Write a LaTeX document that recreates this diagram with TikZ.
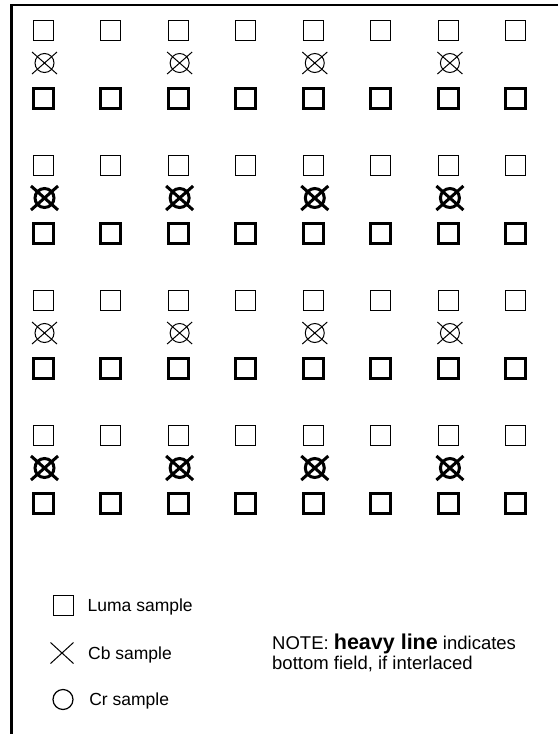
\documentclass[tikz,border=0pt]{standalone}
\usepackage{fontspec}
\setmainfont{Liberation Sans}
\usetikzlibrary{positioning, shapes.misc}

\begin{document}
\begin{tikzpicture}[
    x=1pt,
    y=-1pt,
    luma/.style={
        draw,
        rectangle,
        minimum size=20pt,
        inner sep=0pt,
        line width=1pt
    },
    heavyluma/.style={
        luma,
        line width=3pt
    },
    cbmark/.style={
        draw,
        cross out,
        minimum width=24pt,
        minimum height=21pt,
        inner sep=0pt,
        line width=1pt
    },
    crmark/.style={
        draw,
        circle,
        minimum size=19pt,
        inner sep=0pt,
        line width=1pt
    },
    keytext/.style={
        inner sep=0pt,
        font=\fontsize{17.5}{20}\selectfont,
        text height=12pt,
        text depth=0pt
    },
    frame/.style={
        line width=2.5pt
    }
]

\useasboundingbox (0,0) rectangle (558,734);

\draw[frame] (558,5) -- (11.5,5) -- (11.5,734);

% luma rows, thin = top field, heavy = bottom field
\foreach \g in {0,...,3} {
    \foreach \i in {0,...,7} {
        \node[luma] (top-\g-\i) at ({43+67.57*\i}, {30+135*\g}) {};
        \node[heavyluma] (bottom-\g-\i) at ({43+67.57*\i}, {98+135*\g}) {};
    }
}

% chroma sites
\foreach \g/\w in {0/1pt, 1/3pt, 2/1pt, 3/3pt} {
    \foreach \i in {0,2,4,6} {
        \node[cbmark, line width=\w] (cb-\g-\i) at ({44.5+67.57*\i}, {63+135*\g}) {};
        \node[crmark, line width=\w] (cr-\g-\i) at ({44.5+67.57*\i}, {63+135*\g}) {};
    }
}

% legend
\node[luma] (lumakey) at (63,605) {};
\node[keytext, right=14pt of lumakey] (lumatext) {Luma sample};
\node[cbmark, minimum width=22pt, minimum height=20pt] (cbkey) at (62,653) {};
\node[keytext, right=14.5pt of cbkey] (cbtext) {Cb sample};
\node[crmark, minimum size=20pt, line width=1.2pt] (crkey) at (63,699.5) {};
\node[keytext, right=15.5pt of crkey] (crtext) {Cr sample};

\node[anchor=north west, align=left, inner sep=0pt,
      font=\fontsize{18.5}{20}\selectfont] (note) at (272,634)
    {NOTE: {\fontsize{21.5}{20}\selectfont\bfseries heavy line} indicates\\bottom field, if interlaced};

\end{tikzpicture}
\end{document}
